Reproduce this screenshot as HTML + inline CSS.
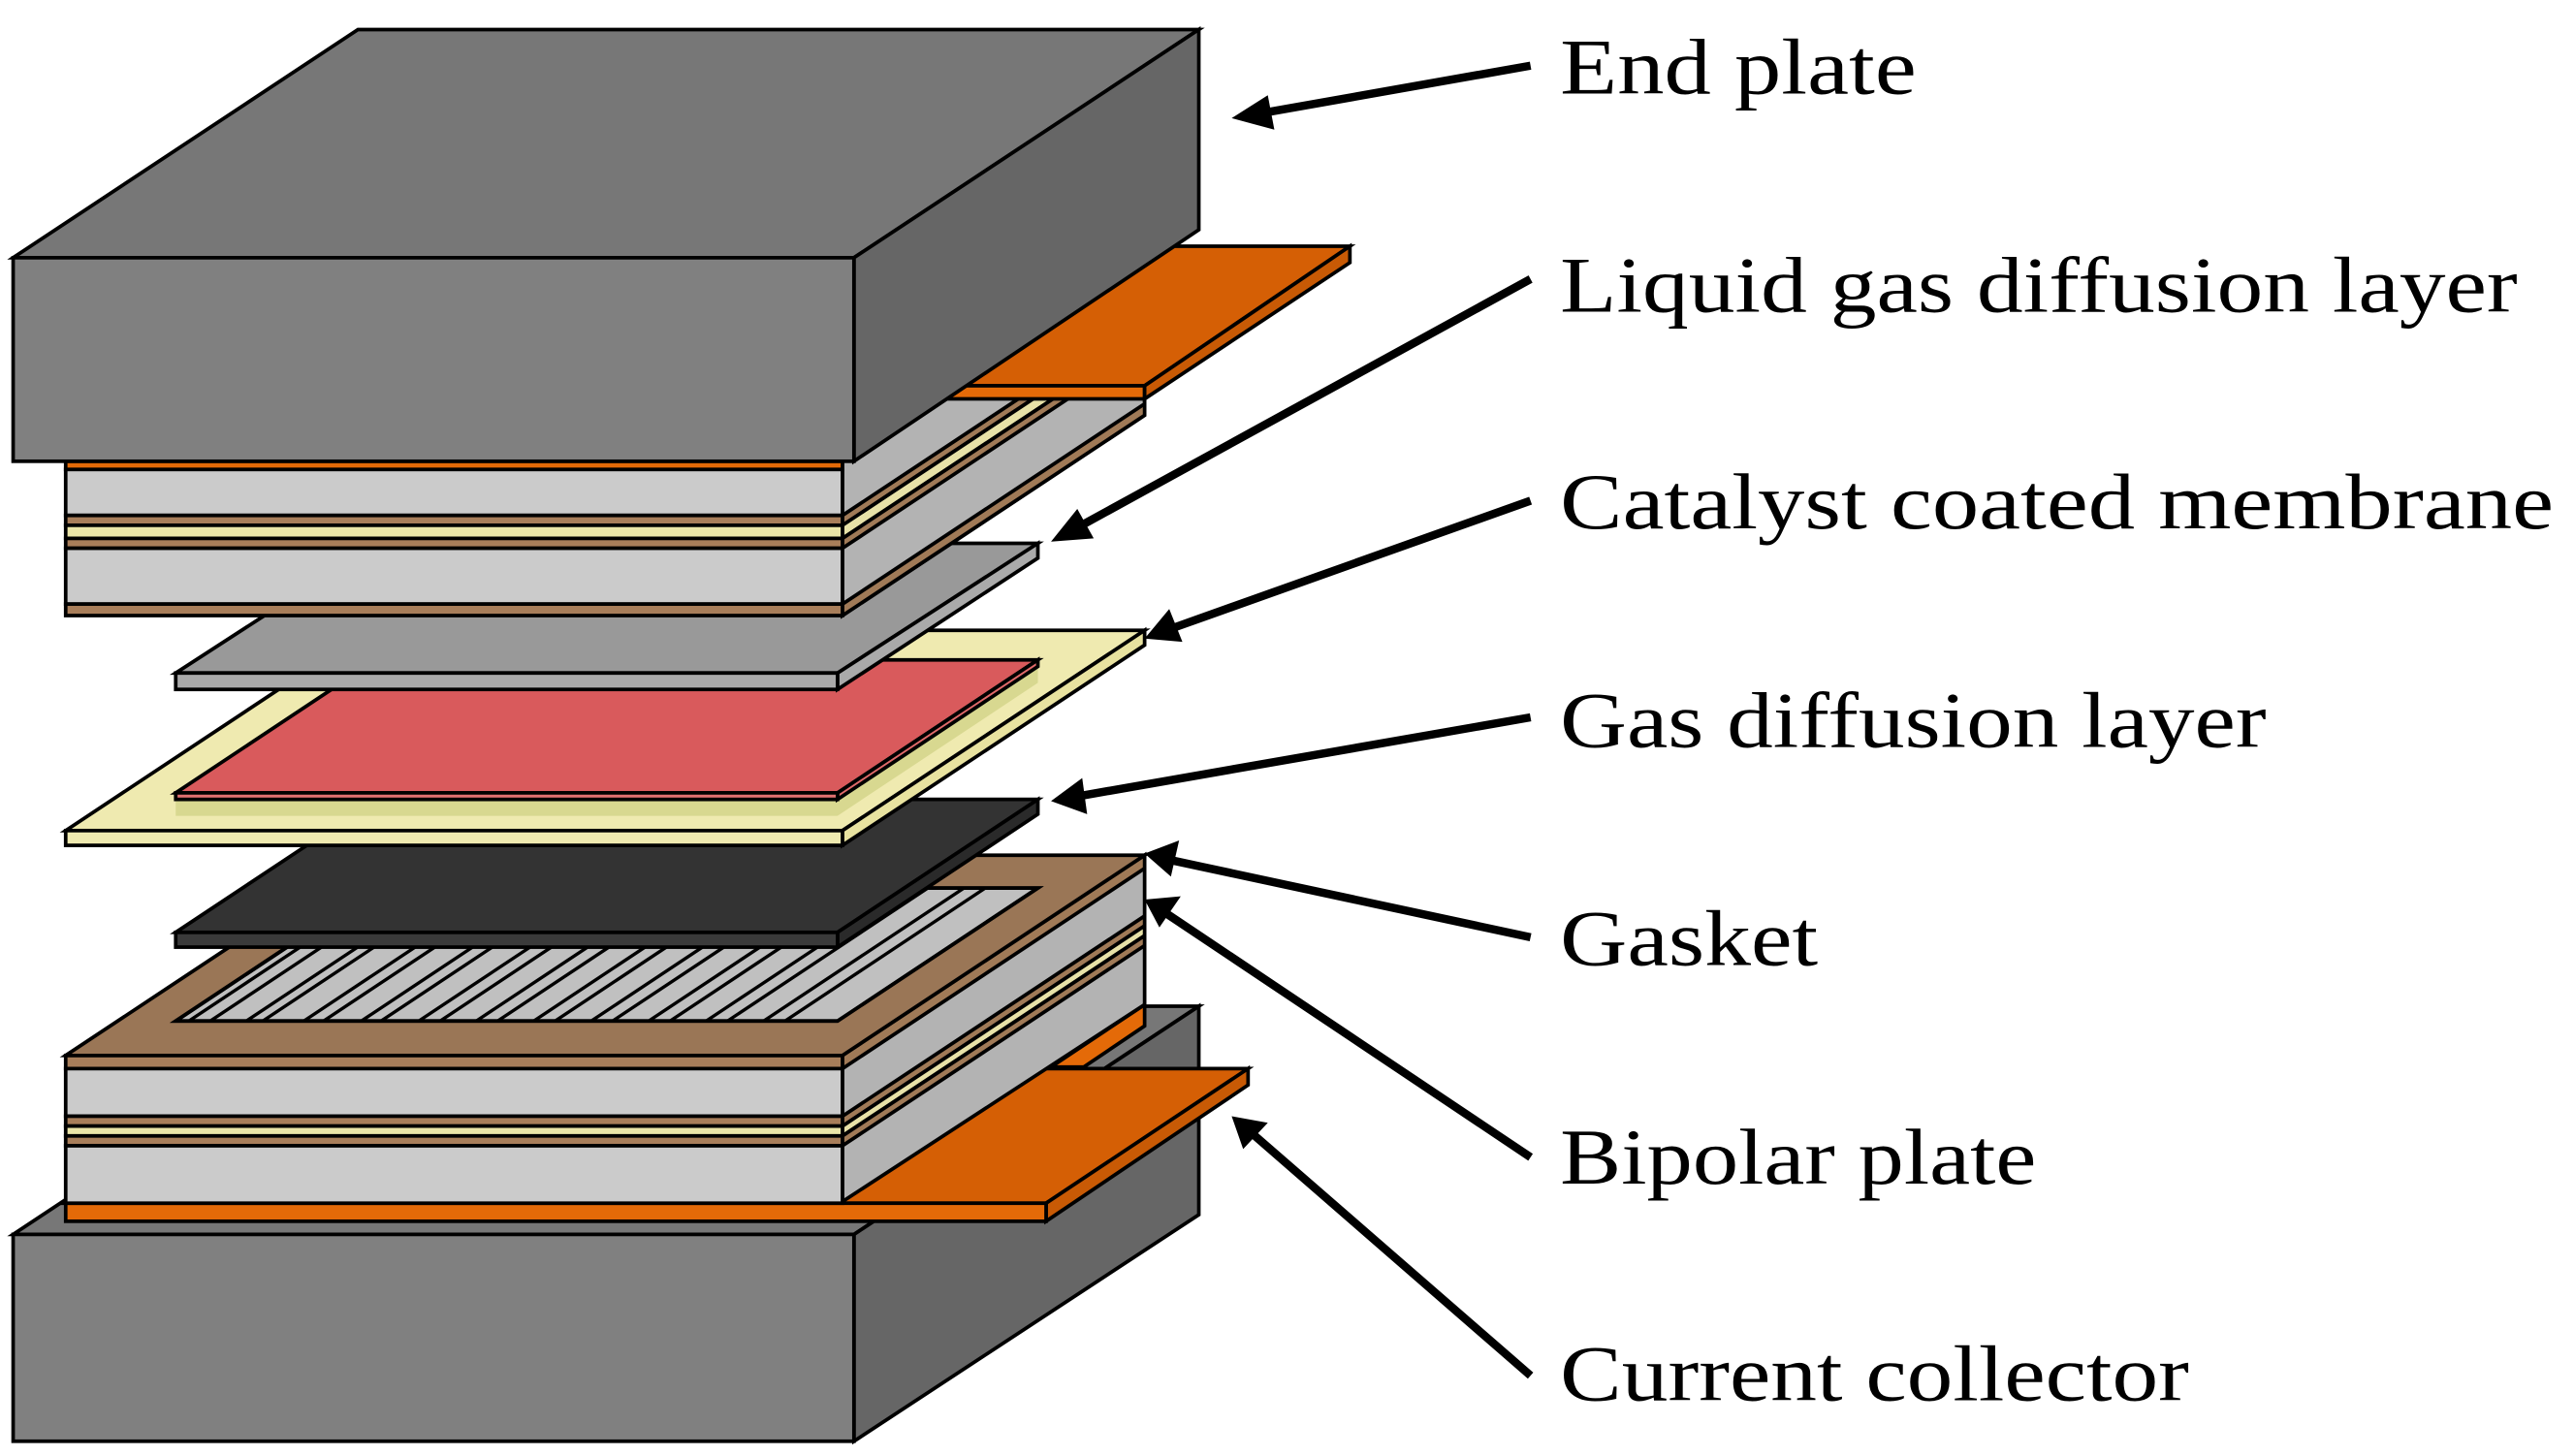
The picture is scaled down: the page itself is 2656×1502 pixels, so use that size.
<!DOCTYPE html>
<html><head><meta charset="utf-8"><style>
html,body{margin:0;padding:0;background:#fff;width:2656px;height:1502px;overflow:hidden}
svg{display:block}
text{font-family:"Liberation Serif",serif;font-size:48px;fill:#000}
</style></head><body>
<svg width="2656" height="1502" viewBox="0 0 1568 887" preserveAspectRatio="none" xmlns="http://www.w3.org/2000/svg">
<defs>
<clipPath id="ff"><polygon points="107,622 510,622 632,541 229,541"/></clipPath>
</defs>
<g stroke="#000" stroke-width="2.2">
<!-- lower end plate -->
<polygon points="8,752 218,613 730,613 520,752" fill="#777"/>
<polygon points="520,752 730,613 730,740 520,878" fill="#666"/>
<rect x="8" y="752" width="512" height="126" fill="#808080"/>
<!-- lower collector -->
<polygon points="40,733 637,733 760,651 163,651" fill="#d55f05"/>
<polygon points="637,733 760,651 760,661 637,744" fill="#c85a05"/>
<rect x="40" y="733" width="597" height="11" fill="#e46a08"/>
<polygon points="640,650 697,612 697,625 660,650" fill="#e46a08"/>
<!-- lower bipolar stack -->
<polygon points="513,643 697,521 697,612 513,732" fill="#b3b3b3"/>
<polygon points="513,680 697,558 697,564 513,686" fill="#a07a57"/>
<polygon points="513,686 697,564 697,570 513,692" fill="#e8e2a8"/>
<polygon points="513,692 697,570 697,576 513,698" fill="#a07a57"/>
<polygon points="513,643 697,521 697,529 513,651" fill="#a07a57"/>
<rect x="40" y="643" width="473" height="8" fill="#a87e5a"/>
<rect x="40" y="651" width="473" height="29" fill="#cbcbcb"/>
<rect x="40" y="680" width="473" height="6" fill="#a87e5a"/>
<rect x="40" y="686" width="473" height="6" fill="#ebe6a8"/>
<rect x="40" y="692" width="473" height="6" fill="#a87e5a"/>
<rect x="40" y="698" width="473" height="35" fill="#cbcbcb"/>
<polygon points="40,643 513,643 697,521 224,521" fill="#9a7656"/>
<polygon points="107,622 510,622 632,541 229,541" fill="#c0c0c0"/>
</g>
<g clip-path="url(#ff)" stroke="#000" stroke-width="2">
<line x1="115" y1="622" x2="237" y2="541"/><line x1="128" y1="622" x2="250" y2="541"/>
<line x1="150" y1="622" x2="272" y2="541"/><line x1="160" y1="622" x2="282" y2="541"/>
<line x1="185" y1="622" x2="307" y2="541"/><line x1="197" y1="622" x2="319" y2="541"/>
<line x1="220" y1="622" x2="342" y2="541"/><line x1="232" y1="622" x2="354" y2="541"/>
<line x1="255" y1="622" x2="377" y2="541"/><line x1="268" y1="622" x2="390" y2="541"/>
<line x1="290" y1="622" x2="412" y2="541"/><line x1="303" y1="622" x2="425" y2="541"/>
<line x1="325" y1="622" x2="447" y2="541"/><line x1="338" y1="622" x2="460" y2="541"/>
<line x1="360" y1="622" x2="482" y2="541"/><line x1="373" y1="622" x2="495" y2="541"/>
<line x1="395" y1="622" x2="517" y2="541"/><line x1="408" y1="622" x2="530" y2="541"/>
<line x1="430" y1="622" x2="552" y2="541"/><line x1="443" y1="622" x2="565" y2="541"/>
<line x1="465" y1="622" x2="587" y2="541"/><line x1="478" y1="622" x2="600" y2="541"/>
</g>
<g stroke="#000" stroke-width="2.2">
<polygon points="107,622 510,622 632,541 229,541" fill="none"/>
<!-- black GDL -->
<polygon points="107,568 510,568 632,487 229,487" fill="#333"/>
<polygon points="510,568 632,487 632,496 510,577" fill="#2a2a2a"/>
<rect x="107" y="568" width="403" height="9" fill="#3a3a3a"/>
<!-- membrane frame -->
<polygon points="40,506 513,506 697,384 224,384" fill="#efeab0"/>
<polygon points="513,506 697,384 697,393 513,515" fill="#e8e2a0"/>
<rect x="40" y="506" width="473" height="9" fill="#efeab0"/>
<polygon points="107,487 510,487 632,406 632,416 510,497 107,497" fill="#d8d890" stroke="none"/>
<!-- red catalyst -->
<polygon points="107,483 510,483 632,402 229,402" fill="#d95a5c"/>
<polygon points="510,483 632,402 632,406 510,487" fill="#e06a6a"/>
<rect x="107" y="483" width="403" height="4" fill="#e07070"/>
<!-- gray GDL -->
<polygon points="107,410 510,410 632,331 229,331" fill="#999"/>
<polygon points="510,410 632,331 632,340 510,420" fill="#aaa"/>
<rect x="107" y="410" width="403" height="10" fill="#aaa"/>
<!-- upper bipolar stack right face -->
<polygon points="513,281 697,159 697,253 513,375" fill="#b3b3b3"/>
<polygon points="513,314 697,192 697,198 513,320" fill="#a07a57"/>
<polygon points="513,320 697,198 697,206 513,328" fill="#e8e2a8"/>
<polygon points="513,328 697,206 697,212 513,334" fill="#a07a57"/>
<polygon points="513,368 697,246 697,253 513,375" fill="#a07a57"/>
<!-- upper stack front -->
<rect x="40" y="281" width="473" height="5" fill="#e46a08"/>
<rect x="40" y="286" width="473" height="28" fill="#cbcbcb"/>
<rect x="40" y="314" width="473" height="6" fill="#a87e5a"/>
<rect x="40" y="320" width="473" height="8" fill="#ebe6a8"/>
<rect x="40" y="328" width="473" height="6" fill="#a87e5a"/>
<rect x="40" y="334" width="473" height="34" fill="#cbcbcb"/>
<rect x="40" y="368" width="473" height="7" fill="#a87e5a"/>
<!-- upper collector tab -->
<polygon points="578,235 697,235 822,150 703,150" fill="#d55f05"/>
<rect x="578" y="235" width="119" height="8" fill="#e46a08"/>
<polygon points="697,235 822,150 822,160 697,243" fill="#c85a05"/>
<!-- top end plate -->
<polygon points="8,157 218,18 730,18 520,157" fill="#777"/>
<polygon points="520,157 730,18 730,140 520,281" fill="#666"/>
<rect x="8" y="157" width="512" height="124" fill="#808080"/>
</g>
<!-- arrows -->
<g stroke="#000" stroke-width="5" fill="none">
<line x1="932" y1="40" x2="768" y2="69"/>
<line x1="932" y1="170" x2="655" y2="322"/>
<line x1="932" y1="305" x2="713" y2="383"/>
<line x1="932" y1="437" x2="657" y2="485"/>
<line x1="932" y1="571" x2="713" y2="524"/>
<line x1="932" y1="705" x2="711" y2="557"/>
<line x1="932" y1="838" x2="763" y2="691"/>
</g>
<g fill="#000">
<polygon points="750,72 772,58 776,79"/>
<polygon points="640,330 656,310 666,328"/>
<polygon points="697,389 712,371 720,391"/>
<polygon points="640,488 659,474 662,496"/>
<polygon points="697,520 718,512 713,534"/>
<polygon points="697,548 719,546 706,565"/>
<polygon points="750,680 772,684 757,700"/>
</g>
<text x="950" y="57" textLength="217" lengthAdjust="spacingAndGlyphs">End plate</text>
<text x="950" y="190" textLength="583" lengthAdjust="spacingAndGlyphs">Liquid gas diffusion layer</text>
<text x="950" y="322" textLength="605" lengthAdjust="spacingAndGlyphs">Catalyst coated membrane</text>
<text x="950" y="455" textLength="430" lengthAdjust="spacingAndGlyphs">Gas diffusion layer</text>
<text x="950" y="588" textLength="157" lengthAdjust="spacingAndGlyphs">Gasket</text>
<text x="950" y="721" textLength="290" lengthAdjust="spacingAndGlyphs">Bipolar plate</text>
<text x="950" y="853" textLength="383" lengthAdjust="spacingAndGlyphs">Current collector</text>
</svg>
</body></html>
